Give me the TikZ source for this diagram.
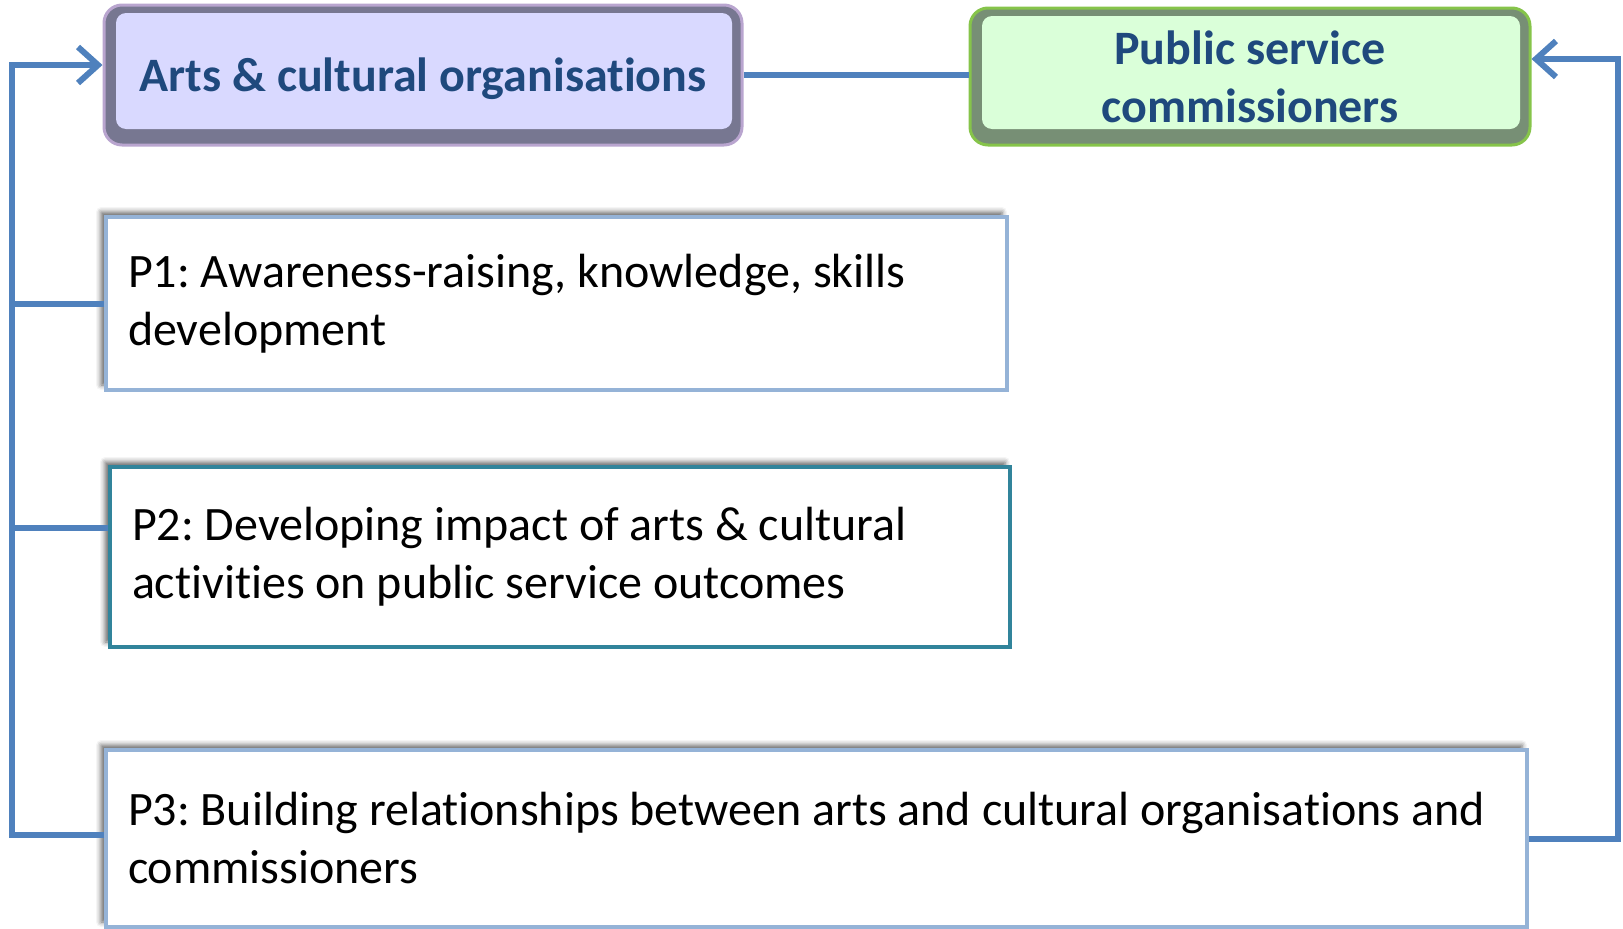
\documentclass[tikz,border=0pt]{standalone}
\usepackage{fontspec}
\setmainfont{Carlito}[Ligatures={NoCommon,NoRare,NoContextual}]
\usetikzlibrary{arrows.meta,shadows.blur}

\definecolor{linkblue}{HTML}{4F81BD}
\definecolor{titleblue}{HTML}{1F497D}
\definecolor{lavfill}{HTML}{D9D9FF}
\definecolor{lavbevel}{HTML}{777791}
\definecolor{lavedge}{HTML}{B9A5CF}
\definecolor{mintfill}{HTML}{DAFFD9}
\definecolor{mintbevel}{HTML}{778F75}
\definecolor{mintedge}{HTML}{86C44A}
\definecolor{paleblue}{HTML}{95B3D7}
\definecolor{tealedge}{HTML}{31849B}

\tikzset{
  link/.style={line width=6pt, linkblue},
  arrowend/.style={-{Straight Barb[length=20pt,width=36pt]}},
  orgbox/.style={rounded corners=18pt, line width=3pt, align=center,
    text=titleblue, font=\fontsize{48}{58}\selectfont\bfseries},
  artsbox/.style={orgbox, fill=lavbevel, draw=lavedge,
    path picture={\fill[lavfill, rounded corners=10pt]
      ([shift={(12pt,-8pt)}]path picture bounding box.north west) rectangle
      ([shift={(-10pt,16pt)}]path picture bounding box.south east);}},
  commbox/.style={orgbox, fill=mintbevel, draw=mintedge,
    path picture={\fill[mintfill, rounded corners=10pt]
      ([shift={(12pt,-8pt)}]path picture bounding box.north west) rectangle
      ([shift={(-10pt,16pt)}]path picture bounding box.south east);}},
  pbox/.style={draw=paleblue, line width=4pt, fill=white, align=flush left,
    inner xsep=22pt, font=\fontsize{48}{58}\selectfont\frenchspacing,
    blur shadow={shadow xshift=-5pt, shadow yshift=5pt,
      shadow blur radius=5pt, shadow opacity=60}}
}

\begin{document}
\begin{tikzpicture}[x=1pt, y=-1pt]
    \useasboundingbox (0,0) rectangle (1623,929);

    % Organisations
    \node[artsbox, text depth=0pt, minimum width=638pt, minimum height=140pt] (arts) at (423,75)
        {Arts \& cultural organisations};
    \node[commbox, minimum width=560pt, minimum height=137pt] (comm) at (1250,76.5)
        {Public service\\commissioners};

    % Programmes
    \node[pbox, text width=857pt, minimum height=173pt] (p1) at (556.5,303.5)
        {P1: Awareness-raising, knowledge, skills\\development};
    \node[pbox, draw=tealedge, text width=856pt, minimum height=180pt] (p2) at (560,557)
        {P2: Developing impact of arts \& cultural\\activities on public service outcomes};
    \node[pbox, text width=1377pt, minimum height=177pt] (p3) at (816.5,838.5)
        {P3: Building relationships between arts and cultural organisations and\\commissioners};

    % Trunks
    \coordinate (leftTop) at (12,65);
    \coordinate (rightTop) at (1618,59);

    % Links
    \draw[link] (arts.east) -- (arts.east -| comm.west);
    \draw[link, arrowend] ([yshift=4pt]p3.west) -| (leftTop) -- ([yshift=10pt]arts.west);
    \draw[link] (p1.west) -- (p1.west -| leftTop);
    \draw[link] ([yshift=29pt]p2.west) -- ([yshift=29pt]p2.west -| leftTop);
    \draw[link, arrowend] (p3.east) -| (rightTop) -- ([yshift=17.5pt]comm.east);
\end{tikzpicture}
\end{document}
